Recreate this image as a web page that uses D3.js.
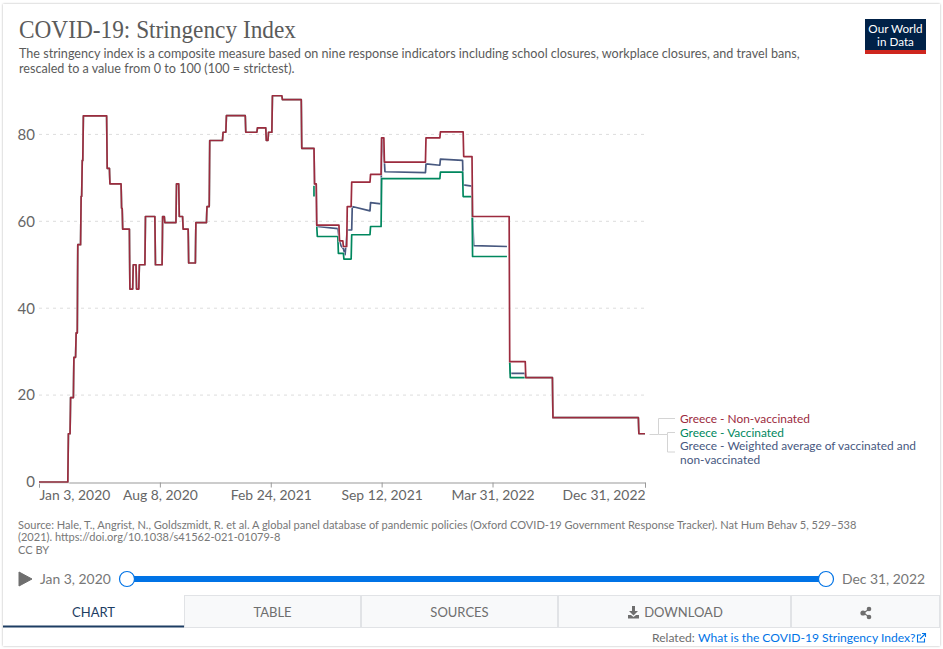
<!DOCTYPE html>
<html lang="en">
<head>
<meta charset="UTF-8">
<title>COVID-19: Stringency Index</title>
<script src="https://cdn.jsdelivr.net/npm/d3@7"></script>
<style>
  html, body { margin: 0; padding: 0; background: #fff; }
  svg { display: block; }
  text { font-family: Lato, sans-serif; }
</style>
</head>
<body>
<div id="chart"></div>
<script>
// values, each one is a change of the index on that date
const startDates = ["2020-01-03","2020-02-25","2020-02-29","2020-03-06","2020-03-10","2020-03-13","2020-03-19","2020-03-21","2020-03-23","2020-05-05","2020-05-10","2020-05-29","2020-05-31","2020-06-02","2020-06-15","2020-06-21","2020-06-27","2020-07-02","2020-07-13","2020-07-31","2020-08-13","2020-08-17","2020-09-07","2020-09-12","2020-09-19","2020-09-29","2020-10-12","2020-11-01","2020-11-06","2020-11-30","2020-12-06","2021-01-10","2021-01-31","2021-02-16","2021-02-20","2021-02-27","2021-03-17","2021-04-21"];
const startValues = [0,11.11,19.44,28.7,34.3,54.63,65.74,74,84.26,72.2,68.6,68.6,63,58.2,44.4,50,44.4,50,61.1,50,61.1,59.7,68.6,61.1,58.2,50.4,59.7,63.4,78.6,80.5,84.3,80.5,81.5,78.6,80.5,88.9,88,76.8];

const redDates = ["2021-05-14","2021-05-18","2021-06-28","2021-07-05","2021-07-12","2021-07-20","2021-08-23","2021-09-12","2021-09-17","2021-12-01","2021-12-27","2022-02-07","2022-02-23","2022-05-01"];
const redValues = [68.6,59.1,55.5,54.2,63.4,69,70.8,79.2,73.6,79.2,80.6,74.9,61.1,27.7];

const greenTickDates = ["2021-05-13","2021-05-13"];
const greenTickValues = [68.2,65.7];
const greenDates = ["2021-05-18","2021-05-19","2021-06-26","2021-07-06","2021-07-20","2021-08-23","2021-09-12","2021-12-27","2022-02-06","2022-02-23","2022-04-26"];
const greenValues = [58.8,56.5,52.6,51.3,56.9,58.8,69.8,71.3,65.7,51.9,51.9];
const greenLateDates = ["2022-05-01","2022-05-02"];
const greenLateValues = [27.7,24];

const blueDates = ["2021-05-13","2021-05-14","2021-05-17","2021-05-18","2021-05-19","2021-06-25","2021-06-28","2021-07-01","2021-07-05","2021-07-08","2021-07-12","2021-07-20","2021-07-21","2021-08-22","2021-08-23","2021-09-11","2021-09-12","2021-09-17","2021-09-18","2021-11-30","2021-12-01","2021-12-26","2021-12-27","2022-02-05","2022-02-06","2022-02-22","2022-02-23","2022-02-25","2022-04-26"];
const blueValues = [76.8,68.6,68.6,59.1,58.8,58.3,55.5,54.3,53.7,52.3,58,58,63.4,62.4,64.3,64,79.2,73.6,71.4,71.2,73.2,72.9,74.3,74,68.4,68.1,61.1,54.4,54.2];
const blueLateDates = ["2022-05-01","2022-05-02","2022-05-29"];
const blueLateValues = [27.7,25,25];

const endDates = ["2022-05-30","2022-07-18","2022-12-20","2022-12-31"];
const endValues = [24,14.8,11.1,11.1];

const yTicks = [0,20,40,60,80];
const xTickDates = ["2020-01-03","2020-08-08","2021-02-24","2021-09-12","2022-03-31","2022-12-31"];
const xTickLabels = ["Jan 3, 2020","Aug 8, 2020","Feb 24, 2021","Sep 12, 2021","Mar 31, 2022","Dec 31, 2022"];
const tabNames = ["CHART","TABLE","SOURCES","DOWNLOAD",""];
const tabEdges = [3,184,361,558,791,940];

const RED = "#9c2b3e", GREEN = "#00875e", BLUE = "#47587f";
const parse = d3.timeParse("%Y-%m-%d");
const DAY = 86400000;

const w = 943, h = 649;
const svg = d3.select("#chart").append("svg").attr("width", w).attr("height", h);

const defs = svg.append("defs");
const blur = defs.append("filter").attr("id", "card").attr("x", "-2%").attr("y", "-2%").attr("width", "104%").attr("height", "104%");
blur.append("feDropShadow").attr("dx", 0).attr("dy", 0).attr("stdDeviation", 1.3).attr("flood-color", "#000").attr("flood-opacity", 0.3);

svg.append("rect").attr("x", 3).attr("y", 4).attr("width", 937).attr("height", 642)
   .attr("fill", "#fff").attr("filter", "url(#card)");

// scales
const x = d3.scaleTime().domain([parse("2020-01-03"), parse("2022-12-31")]).range([39, 645]);
const y = d3.scaleLinear().domain([0, 100]).range([482, 47.5]);

// a change holds until the day before the next change
function pts(dates, values) {
  return dates.map((d, i) => ({ date: parse(d), value: values[i] }));
}
function steps(dates, values, nextDate) {
  const out = [];
  const p = pts(dates, values);
  p.forEach((d, i) => {
    out.push(d);
    const next = i < p.length - 1 ? p[i + 1].date : parse(nextDate);
    if (next - d.date > DAY) out.push({ date: new Date(+next - DAY), value: d.value });
  });
  return out;
}
const gap = { date: null, value: null };

const startLine = steps(startDates, startValues, "2021-05-14");
const endLine = steps(endDates, endValues, "2022-12-31");

const redLine = startLine.concat(steps(redDates, redValues, "2022-05-30"), endLine);
const greenLine = startLine.slice(0, -1).concat(
  [{ date: parse("2021-05-12"), value: 76.8 }], [gap],
  pts(greenTickDates, greenTickValues), [gap],
  steps(greenDates, greenValues, "2022-04-26"), [gap],
  steps(greenLateDates, greenLateValues, "2022-05-30"), endLine);
const blueLine = startLine.slice(0, -1).concat(
  pts(blueDates, blueValues), [gap],
  pts(blueLateDates, blueLateValues), endLine);

// title block
svg.append("text").attr("x", 19).attr("y", 38).attr("textLength", 277).attr("lengthAdjust", "spacingAndGlyphs")
   .style("font-family", "'Liberation Serif', serif").style("font-size", "26px").attr("fill", "#5b5b5b")
   .text("COVID-19: Stringency Index");
const sub = svg.append("text").style("font-size", "12.62px").attr("fill", "#5b5b5b");
["The stringency index is a composite measure based on nine response indicators including school closures, workplace closures, and travel bans,",
 "rescaled to a value from 0 to 100 (100 = strictest)."
].forEach((d, i) => sub.append("tspan").attr("x", 19).attr("y", 58 + i * 14.5).text(d));

// logo
svg.append("rect").attr("x", 865).attr("y", 19).attr("width", 61).attr("height", 31).attr("fill", "#002147");
svg.append("rect").attr("x", 865).attr("y", 50).attr("width", 61).attr("height", 4).attr("fill", "#ce261e");
const logo = svg.append("text").attr("text-anchor", "middle").style("font-size", "11.7px").attr("fill", "#fff");
["Our World", "in Data"].forEach((d, i) => logo.append("tspan").attr("x", 895.5).attr("y", 33 + i * 13).text(d));

// y axis with dashed grid
const yAxis = d3.axisLeft(y).tickValues(yTicks).tickSize(0).tickPadding(4);
const yG = svg.append("g").attr("transform", "translate(39,0)").call(yAxis);
yG.select(".domain").remove();
yG.selectAll("text").style("font-family", "Lato, sans-serif").style("font-size", "15px").attr("fill", "#666");
svg.selectAll(".grid").data(yTicks.slice(1)).enter().append("line").attr("class", "grid")
   .attr("x1", 39).attr("x2", 645).attr("y1", d => y(d)).attr("y2", d => y(d))
   .attr("stroke", "#ddd").attr("stroke-dasharray", "3,4");

// x axis, end labels pinned to the ends
const xAxis = d3.axisBottom(x).tickValues(xTickDates.map(parse))
  .tickFormat((d, i) => xTickLabels[i]).tickSize(5).tickSizeOuter(5).tickPadding(3);
const xG = svg.append("g").attr("transform", "translate(0,482.5)").call(xAxis);
xG.select(".domain").attr("stroke", "#999");
xG.selectAll(".tick line").attr("stroke", "#999");
xG.selectAll("text").style("font-family", "Lato, sans-serif").style("font-size", "13.9px").attr("fill", "#666")
  .attr("text-anchor", (d, i) => i === 0 ? "start" : i === xTickDates.length - 1 ? "end" : "middle");

// lines
const line = d3.line().defined(d => d.value !== null).x(d => x(d.date)).y(d => y(d.value));
[[blueLine, BLUE], [greenLine, GREEN], [redLine, RED]].forEach(([data, color]) => {
  svg.append("path").datum(data).attr("d", line).attr("fill", "none").attr("stroke", "#fff")
     .attr("stroke-width", 2.8).attr("stroke-opacity", 0.6);
  svg.append("path").datum(data).attr("d", line).attr("fill", "none").attr("stroke", color)
     .attr("stroke-width", 1.7).attr("stroke-linejoin", "round");
});

// legend labels and connectors
const legendRows = [
  { lines: ["Greece - Non-vaccinated"], color: RED, y: 423 },
  { lines: ["Greece - Vaccinated"], color: GREEN, y: 437 },
  { lines: ["Greece - Weighted average of vaccinated and", "non-vaccinated"], color: BLUE, y: 450.4 }
];
legendRows.forEach(row => {
  const t = svg.append("text").style("font-size", "11.9px").attr("fill", row.color);
  row.lines.forEach((d, i) => t.append("tspan").attr("x", 680).attr("y", row.y + i * 13.2).text(d));
});
["M649.5,434.5H658.5V418.5H675", "M658.5,434.5H667.5V432.5H675", "M667.5,434.5V452H675"].forEach(d => {
  svg.append("path").attr("d", d).attr("fill", "none").attr("stroke", "#d4d4d4").attr("stroke-width", 1);
});

// source
const src = svg.append("text").style("font-size", "11.06px").attr("fill", "#777");
["Source: Hale, T., Angrist, N., Goldszmidt, R. et al. A global panel database of pandemic policies (Oxford COVID-19 Government Response Tracker). Nat Hum Behav 5, 529–538",
 "(2021). https://doi.org/10.1038/s41562-021-01079-8",
 "CC BY"
].forEach((d, i) => src.append("tspan").attr("x", 18).attr("y", 529 + i * 12.4).text(d));

// timeline
svg.append("path").attr("d", "M19,572L32,579L19,586Z").attr("fill", "#6e6e6e").attr("stroke", "#6e6e6e").attr("stroke-linejoin", "round");
svg.append("text").attr("x", 40).attr("y", 584).style("font-size", "13.9px").attr("fill", "#777").text("Jan 3, 2020");
svg.append("text").attr("x", 925).attr("y", 584).attr("text-anchor", "end").style("font-size", "13.9px").attr("fill", "#777").text("Dec 31, 2022");
svg.append("rect").attr("x", 127).attr("y", 576).attr("width", 699).attr("height", 6).attr("fill", "#0073e6");
svg.selectAll(".handle").data([127, 826]).enter().append("circle").attr("class", "handle")
   .attr("cx", d => d).attr("cy", 579).attr("r", 7.5).attr("fill", "#fff").attr("stroke", "#0073e6").attr("stroke-width", 1.2);

// tabs
tabNames.forEach((name, i) => {
  const x0 = tabEdges[i], x1 = tabEdges[i + 1];
  svg.append("rect").attr("x", x0 + 0.5).attr("y", 595.5).attr("width", x1 - x0 - 1).attr("height", 32)
     .attr("fill", i === 0 ? "#fff" : "#f8f9fa").attr("stroke", i === 0 ? "none" : "#e1e3e6");
  if (name) {
    svg.append("text").attr("x", i === 3 ? 683.5 : (x0 + x1) / 2).attr("y", 617).attr("text-anchor", "middle")
       .style("font-size", "13px").attr("fill", i === 0 ? "#1d3d63" : "#6e6e6e").text(name);
  }
});
svg.append("rect").attr("x", 3).attr("y", 625.5).attr("width", 181).attr("height", 2).attr("fill", "#1d3d63");
// download icon
svg.append("path").attr("d", "M632,606h3v5h3l-4.500,4.500l-4.500,-4.500h3zM628,615h3l2.500,2l2.500,-2h3v3.500h-11z").attr("fill", "#6e6e6e");
// share icon
svg.append("path").attr("d", "M863,613L869,609.500M863,613L869,616.500").attr("stroke", "#6e6e6e").attr("stroke-width", 1.3);
svg.selectAll(".share").data([[863, 613, 2.6], [869, 609, 2.3], [869, 617, 2.3]]).enter().append("circle").attr("class", "share")
   .attr("cx", d => d[0]).attr("cy", d => d[1]).attr("r", d => d[2]).attr("fill", "#6e6e6e");

// related link
svg.append("text").attr("x", 652).attr("y", 642).style("font-size", "12.1px").attr("fill", "#6e6e6e").text("Related:");
svg.append("text").attr("x", 698).attr("y", 642).style("font-size", "12.1px").attr("fill", "#0073e6").text("What is the COVID-19 Stringency Index?");
svg.append("path").attr("d", "M923,635h-3.500v7h7v-3.500M922,639L927.500,633.500M924,633.500h3.500v3.500").attr("transform", "translate(-2,0)").attr("fill", "none").attr("stroke", "#0073e6").attr("stroke-width", 1.1);
</script>
</body>
</html>
